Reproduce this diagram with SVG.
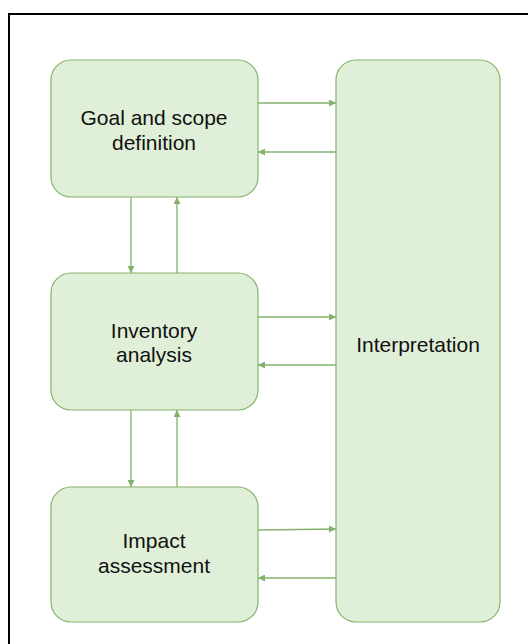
<svg xmlns="http://www.w3.org/2000/svg" width="528" height="644" viewBox="0 0 528 644">
<defs>
<style>
.node{fill:#e0efd8;stroke:#85b26b;stroke-width:1.2}
.lbl{font-family:"Liberation Sans",Arial,sans-serif;font-size:21px;fill:#111111;text-anchor:middle}
.edge{stroke:#85b26b;stroke-width:1.3;fill:none;marker-end:url(#ah)}
</style>
<marker id="ah" viewBox="0 0 10 10" refX="10" refY="5" markerWidth="7" markerHeight="7" markerUnits="userSpaceOnUse" orient="auto">
<path d="M0,0 L10,5 L0,10 z" fill="#85b26b"/>
</marker>
</defs>
<rect x="0" y="0" width="528" height="644" fill="#ffffff"/>
<path d="M9,644 V14 H528" fill="none" stroke="#000" stroke-width="2"/>
<g id="goal">
<rect class="node" x="51" y="60" width="207" height="137" rx="20"/>
<text class="lbl" x="154" y="125">Goal and scope</text>
<text class="lbl" x="154" y="150">definition</text>
</g>
<g id="inventory">
<rect class="node" x="51" y="273" width="207" height="137" rx="20"/>
<text class="lbl" x="154" y="338">Inventory</text>
<text class="lbl" x="154" y="362">analysis</text>
</g>
<g id="impact">
<rect class="node" x="51" y="487" width="207" height="135" rx="20"/>
<text class="lbl" x="154" y="548">Impact</text>
<text class="lbl" x="154" y="573">assessment</text>
</g>
<g id="interpretation">
<rect class="node" x="336" y="60" width="164" height="562" rx="20"/>
<text class="lbl" x="418" y="352">Interpretation</text>
</g>
<g id="connectors">
<line class="edge" x1="258" y1="103" x2="336" y2="103"/>
<line class="edge" x1="336" y1="152" x2="258" y2="152"/>
<line class="edge" x1="258" y1="317" x2="336" y2="317"/>
<line class="edge" x1="336" y1="365" x2="258" y2="365"/>
<line class="edge" x1="258" y1="530" x2="336" y2="529"/>
<line class="edge" x1="336" y1="578" x2="258" y2="578"/>
<line class="edge" x1="131" y1="197" x2="131" y2="273"/>
<line class="edge" x1="177" y1="273" x2="177" y2="197"/>
<line class="edge" x1="131" y1="410" x2="131" y2="487"/>
<line class="edge" x1="177" y1="487" x2="177" y2="410"/>
</g>
</svg>
